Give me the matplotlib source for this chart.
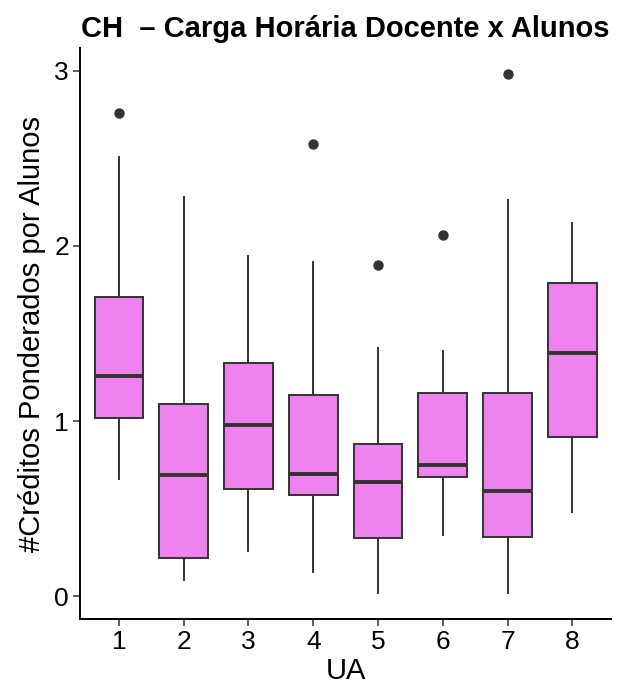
import matplotlib
matplotlib.use('Agg')
import matplotlib.pyplot as plt

plt.rcParams['font.family'] = ['Liberation Sans', 'DejaVu Sans']

# values
ua = ['1', '2', '3', '4', '5', '6', '7', '8']
whislo = [0.67, 0.09, 0.26, 0.14, 0.02, 0.35, 0.02, 0.48]
q1 = [1.02, 0.22, 0.61, 0.58, 0.33, 0.68, 0.34, 0.91]
med = [1.26, 0.69, 0.98, 0.70, 0.65, 0.75, 0.60, 1.39]
q3 = [1.71, 1.10, 1.33, 1.15, 0.87, 1.16, 1.16, 1.79]
whishi = [2.51, 2.28, 1.94, 1.91, 1.42, 1.40, 2.26, 2.13]
outliers = [[2.76], [], [], [2.58], [1.89], [2.06], [2.98], []]

stats = []
for i in range(len(ua)):
    stats.append({'label': ua[i], 'whislo': whislo[i], 'q1': q1[i], 'med': med[i],
                  'q3': q3[i], 'whishi': whishi[i], 'fliers': outliers[i]})

fig = plt.figure(figsize=(6.4, 6.92), dpi=100)
ax = fig.add_axes([0.125, 0.1055, 0.83, 0.825])

edge = '#333333'
ax.bxp(stats, positions=range(1, 9), widths=0.75, patch_artist=True, showcaps=False,
       boxprops=dict(facecolor='violet', edgecolor=edge, linewidth=1.4),
       whiskerprops=dict(color=edge, linewidth=1.4),
       medianprops=dict(color=edge, linewidth=2.8),
       flierprops=dict(marker='o', markerfacecolor=edge, markeredgecolor=edge, markersize=6.5))

ax.set_xlim(0.4, 8.6)
ax.set_ylim(-0.13, 3.13)
ax.set_yticks([0, 1, 2, 3])
ax.set_yticklabels(['0', '1', '2', '3'])
ax.set_xticks(range(1, 9))
ax.set_xticklabels(ua)

for s in ['top', 'right']:
    ax.spines[s].set_visible(False)
for s in ['left', 'bottom']:
    ax.spines[s].set_linewidth(1.4)
    ax.spines[s].set_color('black')
ax.tick_params(axis='both', labelsize=19, length=5, width=1.1, color='#333333',
               labelcolor='black', pad=3)

ax.set_xlabel('UA', fontsize=21, labelpad=2)
ax.set_ylabel('#Créditos Ponderados por Alunos', fontsize=21, labelpad=6)
ax.set_title('CH  – Carga Horária Docente x Alunos', fontsize=21, fontweight='bold', pad=8)

fig.savefig('out.png', dpi=100)
